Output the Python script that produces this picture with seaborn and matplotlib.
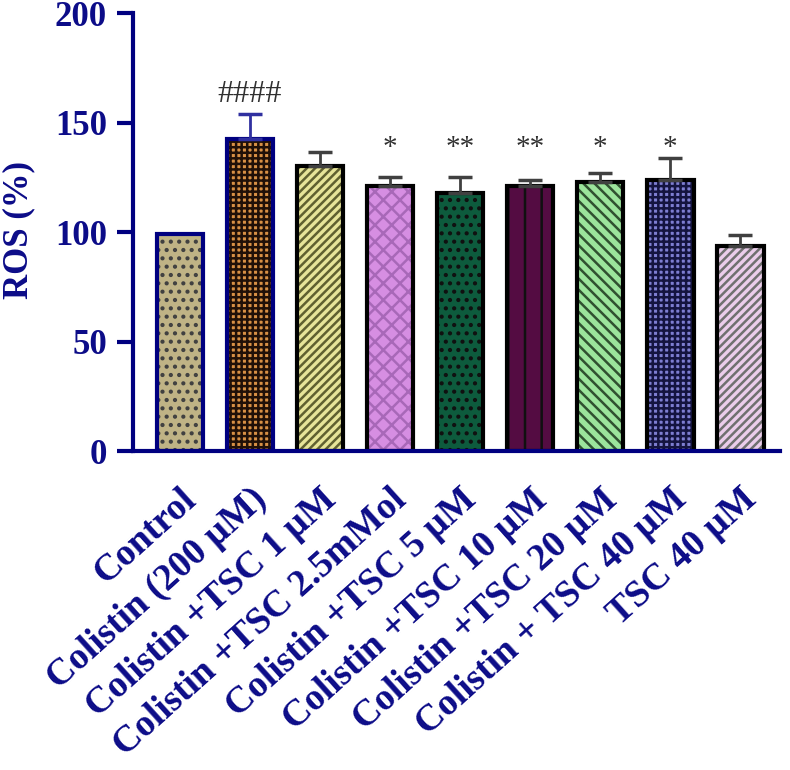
import matplotlib
matplotlib.use("Agg")
import matplotlib.pyplot as plt
import numpy as np
import pandas as pd
import seaborn as sns

groups = [
    "Control",
    "Colistin (200 µM)",
    "Colistin +TSC 1 µM",
    "Colistin +TSC 2.5mMol",
    "Colistin +TSC 5 µM",
    "Colistin +TSC 10 µM",
    "Colistin +TSC 20 µM",
    "Colistin + TSC 40 µM",
    "TSC 40 µM",
]
ros_mean = [99, 142.5, 130, 121, 118, 121, 123, 124, 93.5]
ros_sd = [0, 11.5, 6.5, 4, 7, 3, 4, 10, 5]
marks = ["", "####", "", "*", "**", "**", "*", "*", ""]

fill_colors = ["#c8b87c", "#f0902c", "#f4f08c", "#e080f0", "#006840",
               "#600048", "#90f090", "#7070e0", "#f0c8f0"]
hatches = ["..", "+++", "////", "xx", "..", "|", "\\\\\\", "+++", "////"]
hatch_colors = ["#404040", "#201008", "#606030", "#a868b8", "#101010",
                "#101010", "#305030", "#141440", "#707070"]
edge_colors = ["#000080", "#000080", "black", "black", "black",
               "black", "black", "black", "black"]
err_colors = ["#404040", "#3030a0", "#404040", "#404040", "#404040",
              "#404040", "#404040", "#404040", "#404040"]

navy = "#0c0c88"
df = pd.DataFrame({"group": groups, "ros": ros_mean})

sns.set_style("ticks")
plt.rcParams["font.family"] = ["Liberation Serif", "DejaVu Serif"]
plt.rcParams["font.weight"] = "bold"
plt.rcParams["hatch.linewidth"] = 1.8

fig = plt.figure(figsize=(7.9, 7.7), dpi=100)
ax = fig.add_axes([0.168, 0.414, 0.819, 0.569])

# hatched fill layer
sns.barplot(data=df, x="group", y="ros", hue="group", palette=fill_colors,
            legend=False, width=0.66, errorbar=None, ax=ax, linewidth=0)
for p, h, hc in zip(ax.patches, hatches, hatch_colors):
    p.set_hatch(h)
    p.set_edgecolor(hc)
    p.set_linewidth(0)

# outline layer
n0 = len(ax.patches)
sns.barplot(data=df, x="group", y="ros", hue="group", palette=fill_colors,
            legend=False, width=0.66, errorbar=None, ax=ax, fill=False)
for p, ec in zip(ax.patches[n0:], edge_colors):
    p.set_edgecolor(ec)
    p.set_facecolor("none")
    p.set_linewidth(3)

x = np.arange(len(groups))
for xi, m, s, c in zip(x, ros_mean, ros_sd, err_colors):
    if s > 0:
        ax.errorbar(xi, m, yerr=[[0], [s]], fmt="none", ecolor=c,
                    elinewidth=2, capsize=8.5, capthick=2.5, zorder=1)

for xi, mk in zip(x, marks):
    if mk:
        is_hash = mk.startswith("#")
        ax.text(xi, 163 if is_hash else 138.5, mk, ha="center", va="center",
                fontsize=23 if is_hash else 21,
                color="#303030", fontweight="normal")

ax.set_ylim(0, 200)
ax.set_xlim(-0.67, 8.56)
ax.set_yticks([0, 50, 100, 150, 200])
ax.set_xlabel("")
ax.set_ylabel("ROS (%)", fontsize=25, fontweight="bold", color=navy)
ax.yaxis.set_label_coords(-0.151, 0.505)

for side in ["top", "right"]:
    ax.spines[side].set_visible(False)
for side in ["left", "bottom"]:
    ax.spines[side].set_color("#000080")
    ax.spines[side].set_linewidth(3)

ax.tick_params(axis="y", colors="#000080", width=3, length=11.5,
               labelsize=25, labelcolor=navy, pad=7)
ax.tick_params(axis="x", length=0, pad=22, labelsize=27, labelcolor=navy)
ax.set_xticks(x)
ax.set_xticklabels(groups, rotation=42, ha="right", rotation_mode="anchor",
                   fontweight="bold")
for lbl in ax.get_yticklabels():
    lbl.set_fontweight("bold")

fig.savefig("out.png", dpi=100)
